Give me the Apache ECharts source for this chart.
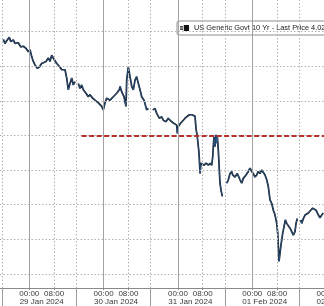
<!DOCTYPE html>
<html><head><meta charset="utf-8">
<script src="https://cdn.jsdelivr.net/npm/echarts@6/dist/echarts.min.js"></script>
<style>html,body{margin:0;padding:0;background:#fff;overflow:hidden}#c{width:324px;height:306px}</style>
</head><body><div id="c"></div>
<script>
const seriesName = 'US Generic Govt 10 Yr - Last Price 4.025';
// hours since 29 Jan 2024 00:00; null yield marks a session break
const hours = [
 -8.40,-7.85,-7.30,-6.46,-6.01,-5.17,-4.62,-3.55,-2.78,-1.94,-1.07,-0.32,0.23,0.77,1.29,1.84,2.58,3.23,4.00,4.52,5.39,6.14,6.68,7.23,7.75,8.30,8.85,9.36,9.91,10.46,10.98,11.53,12.08,12.59,13.14,13.69,14.21,14.76,
 15.2,
 15.82,16.37,16.92,17.44,18.31,19.05,19.60,20.47,21.21,22.28,23.38,23.89,24.44,24.99,26.06,27.12,28.22,29.06,29.29,29.84,30.58,31.22,31.45,31.97,32.52,33.07,33.58,34.13,34.68,35.20,35.75,36.29,37.04,37.91,38.43,
 39.2,
 39.85,40.59,41.14,41.98,42.75,43.27,44.14,44.88,45.66,46.50,47.05,47.60,47.79,48.11,48.89,49.73,50.28,50.82,51.66,52.44,52.96,53.50,53.83,54.25,54.70,54.89,55.12,55.44,55.99,56.41,57.06,57.80,58.35,58.90,59.22,59.41,59.64,59.96,60.29,60.51,60.71,61.03,61.35,61.58,61.90,62.32,
 63.2,
 63.74,64.26,64.81,65.35,65.68,66.42,67.16,68.04,68.58,69.10,69.97,70.72,71.26,71.81,72.33,72.88,73.43,73.94,74.49,75.04,75.56,76.11,76.66,77.17,77.72,78.27,78.79,79.34,79.89,80.21,80.40,80.63,80.95,81.18,81.82,82.24,82.66,83.11,83.63,84.18,84.73,85.25,85.79,86.12,86.54,
 87.2,
 87.64,87.96,88.48,89.03,89.57,90.09,90.86,91.51,91.93,92.57,93.00,93.64,93.86,94.42,94.93
];
const yields = [
 4.139,4.133,4.137,4.142,4.136,4.138,4.133,4.134,4.128,4.129,4.126,4.121,4.124,4.114,4.107,4.102,4.097,4.099,4.104,4.102,4.107,4.112,4.107,4.116,4.112,4.114,4.104,4.102,4.099,4.095,4.097,4.095,4.083,4.066,4.075,4.083,4.073,4.078,
 null,
 4.075,4.068,4.073,4.066,4.061,4.056,4.059,4.054,4.051,4.047,4.042,4.037,4.047,4.054,4.051,4.056,4.061,4.066,4.071,4.063,4.056,4.042,4.080,4.099,4.085,4.071,4.066,4.080,4.085,4.075,4.066,4.056,4.051,4.037,4.039,
 null,
 4.037,4.039,4.032,4.025,4.027,4.022,4.020,4.025,4.021,4.018,4.020,4.015,4.003,4.013,4.018,4.022,4.025,4.027,4.030,4.030,4.032,4.028,4.010,3.998,3.979,3.967,3.945,3.960,3.962,3.957,3.960,3.957,3.960,3.957,3.969,3.984,3.998,3.984,4.001,3.989,3.998,3.979,3.950,3.931,3.921,3.912,
 null,
 3.931,3.936,3.945,3.948,3.943,3.940,3.945,3.936,3.931,3.938,3.943,3.948,3.953,3.948,3.945,3.940,3.943,3.948,3.945,3.950,3.948,3.943,3.936,3.926,3.907,3.902,3.892,3.885,3.873,3.859,3.839,3.818,3.830,3.839,3.859,3.868,3.878,3.873,3.871,3.866,3.861,3.856,3.861,3.873,3.880,
 null,
 3.878,3.873,3.880,3.885,3.883,3.888,3.892,3.895,3.896,3.892,3.888,3.890,3.881,3.885,3.888
];
const yTicks = [3.80,3.85,3.90,3.95,4.00,4.05,4.10,4.15];
const dayHours = [0,24,48,72,96];
const morningHours = [8,32,56,80];
const sessionHours = [-8.8,15.2,39.2,63.2,87.2];
const timeLabelHours = [0,8,24,32,48,56,72,80,96];
const timeLabels = ['00:00','08:00','00:00','08:00','00:00','08:00','00:00','08:00','00:00'];
const dateHours = [4,28,52,76,100];
const dateLabels = ['29 Jan 2024','30 Jan 2024','31 Jan 2024','01 Feb 2024','02 Feb 2024'];
const refLevel = 4.00;
const refStartHour = 16.9;

const xMin = -9.46, xMax = 104.84, yMin = 3.7796, yMax = 4.1958;
const font = 'Liberation Sans';
const dotted = {type:[1.5,2], color:'#b0b0b0', width:1};
const chart = echarts.init(document.getElementById('c'), null, {renderer:'canvas'});
const lineData = hours.map((h,i)=>[h, yields[i]==null ? '-' : yields[i]]);
const gridLines = [].concat(
  yTicks.map(v=>({yAxis:v, lineStyle:dotted})),
  sessionHours.map(v=>({xAxis:v, lineStyle:dotted})),
  morningHours.map(v=>({xAxis:v, lineStyle:dotted})),
  dayHours.map(v=>({xAxis:v, lineStyle:{type:'solid', color:'#a3a3a3', width:1}}))
);
chart.setOption({
  animation:false,
  grid:{left:0, right:-30, top:0, bottom:18, containLabel:false, outerBoundsMode:'none'},
  legend:{
    data:[seriesName], left:177, top:21, padding:[3,3,3,3],
    itemWidth:9, itemHeight:6,
    icon:'path://M0,1h3v0.8h-3zM0,2.6h3v0.8h-3zM0,4.2h3v0.8h-3zM3.8,0h5.2v6h-5.2z',
    itemStyle:{color:'#111'},
    backgroundColor:'#fff', borderColor:'#8f8f8f', borderWidth:1, borderRadius:2,
    textStyle:{fontFamily:font, fontSize:7.4, color:'#222', lineHeight:8},
    selectedMode:false
  },
  xAxis:[
    {type:'value', min:xMin, max:xMax, splitLine:{show:false},
     axisLine:{show:true, onZero:false, lineStyle:{color:'#8a8a8a', width:1}},
     axisTick:{show:true, customValues:timeLabelHours, length:2, lineStyle:{color:'#888'}},
     axisLabel:{show:true, customValues:timeLabelHours, margin:2, fontFamily:font, fontSize:8, color:'#3a3a3a',
       formatter:v=>timeLabels[timeLabelHours.indexOf(v)] || ''}},
    {type:'value', min:xMin, max:xMax, position:'bottom', splitLine:{show:false},
     axisLine:{show:false, onZero:false},
     axisTick:{show:true, customValues:sessionHours, length:18, lineStyle:{color:'#9c9c9c'}},
     axisLabel:{show:true, customValues:dateHours, margin:10, fontFamily:font, fontSize:8, color:'#3a3a3a',
       formatter:v=>dateLabels[dateHours.indexOf(v)] || ''}}
  ],
  yAxis:{type:'value', min:yMin, max:yMax, show:false, splitLine:{show:false}},
  series:[
    {type:'line', name:'grid', data:[], z:1, silent:true,
     markLine:{silent:true, symbol:['none','none'], label:{show:false}, animation:false, data:gridLines}},
    {type:'line', name:seriesName, data:lineData, z:3, showSymbol:false, connectNulls:false,
     lineStyle:{color:'#0a121e', width:1.7}, itemStyle:{color:'#111'}},
    {type:'line', name:'hl', data:lineData, z:4, showSymbol:false, connectNulls:false,
     lineStyle:{color:'#4a88c8', width:0.5}},
    {type:'line', name:'ref', data:[], z:5, silent:true,
     markLine:{silent:true, symbol:['none','none'], label:{show:false}, animation:false,
       data:[[{coord:[refStartHour, refLevel]},{coord:[xMax, refLevel]}]],
       lineStyle:{type:[5,2.5], color:'#b8302a', width:1.8}}}
  ]
});
</script></body></html>
